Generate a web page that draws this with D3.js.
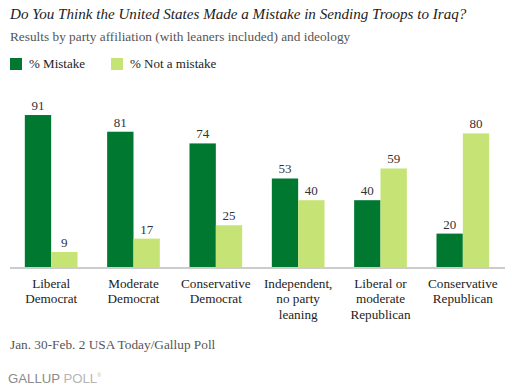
<!DOCTYPE html>
<html><head><meta charset="utf-8">
<script src="https://cdn.jsdelivr.net/npm/d3@7"></script>
<style>body{margin:0;background:#fff}svg{display:block}</style>
</head><body>
<script>
const categories = [["Liberal","Democrat"],["Moderate","Democrat"],["Conservative","Democrat"],["Independent,","no party","leaning"],["Liberal or","moderate","Republican"],["Conservative","Republican"]];
const mistake = [91,81,74,53,40,20];
const notMistake = [9,17,25,40,59,80];
const seriesNames = ["% Mistake","% Not a mistake"];
const colors = ["#00782f","#c6e476"];

const W=512,H=390;
const svg=d3.select("body").append("svg").attr("width",W).attr("height",H);
const serif='"Liberation Serif", "DejaVu Serif", serif';

svg.append("text").attr("x",10).attr("y",19).attr("font-family",serif).attr("font-style","italic")
 .attr("font-size",15.1).attr("fill","#222").text("Do You Think the United States Made a Mistake in Sending Troops to Iraq?");
svg.append("text").attr("x",10).attr("y",41).attr("font-family",serif)
 .attr("font-size",13.3).attr("fill","#555").text("Results by party affiliation (with leaners included) and ideology");

const legX=[10,111];
seriesNames.forEach((n,i)=>{
  svg.append("rect").attr("x",legX[i]).attr("y",58).attr("width",12).attr("height",12).attr("fill",colors[i]);
  svg.append("text").attr("x",legX[i]+19).attr("y",68).attr("font-family",serif).attr("font-size",13).attr("fill","#222").text(n);
});

const baseY=267;
const y=d3.scaleLinear().domain([0,100]).range([baseY,100]);
const x0=d3.scaleBand().domain(d3.range(categories.length)).range([10,504]).paddingInner(0.36).paddingOuter(0.18);
const x1=d3.scaleBand().domain([0,1]).range([0,x0.bandwidth()]);

const data=categories.map((c,i)=>[mistake[i],notMistake[i]]);
const g=svg.selectAll("g.grp").data(data).join("g").attr("class","grp").attr("transform",(d,i)=>`translate(${x0(i)},0)`);
g.selectAll("rect").data(d=>d).join("rect")
 .attr("x",(d,j)=>x1(j)).attr("width",x1.bandwidth()).attr("y",d=>y(d)).attr("height",d=>baseY-y(d))
 .attr("fill",(d,j)=>colors[j]);
g.selectAll("text").data(d=>d).join("text")
 .attr("x",(d,j)=>x1(j)+x1.bandwidth()/2).attr("y",d=>y(d)-5).attr("text-anchor","middle")
 .attr("font-family",serif).attr("font-size",13).attr("fill","#333").text(d=>d);

svg.append("line").attr("x1",10).attr("x2",505).attr("y1",baseY+1).attr("y2",baseY+1).attr("stroke","#cccccc").attr("stroke-width",2);

categories.forEach((c,i)=>{
  const t=svg.append("text").attr("x",x0(i)+x0.bandwidth()/2).attr("y",288).attr("text-anchor","middle")
   .attr("font-family",serif).attr("font-size",13.2).attr("fill","#222");
  c.forEach((l,k)=>t.append("tspan").attr("x",x0(i)+x0.bandwidth()/2).attr("dy",k?15.3:0).text(l));
});

svg.append("text").attr("x",10).attr("y",349).attr("font-family",serif).attr("font-size",13.3).attr("fill","#555").text("Jan. 30-Feb. 2 USA Today/Gallup Poll");

const gl=svg.append("text").attr("x",8).attr("y",383).attr("font-family","'Liberation Sans', Arial, sans-serif").attr("font-size",13.2);
gl.append("tspan").attr("fill","#8a8a8a").text("GALLUP ");
gl.append("tspan").attr("fill","#b5b5b5").text("POLL");
gl.append("tspan").attr("fill","#b5b5b5").attr("font-size",5).attr("dy",-6).text("®");
</script>
</body></html>
